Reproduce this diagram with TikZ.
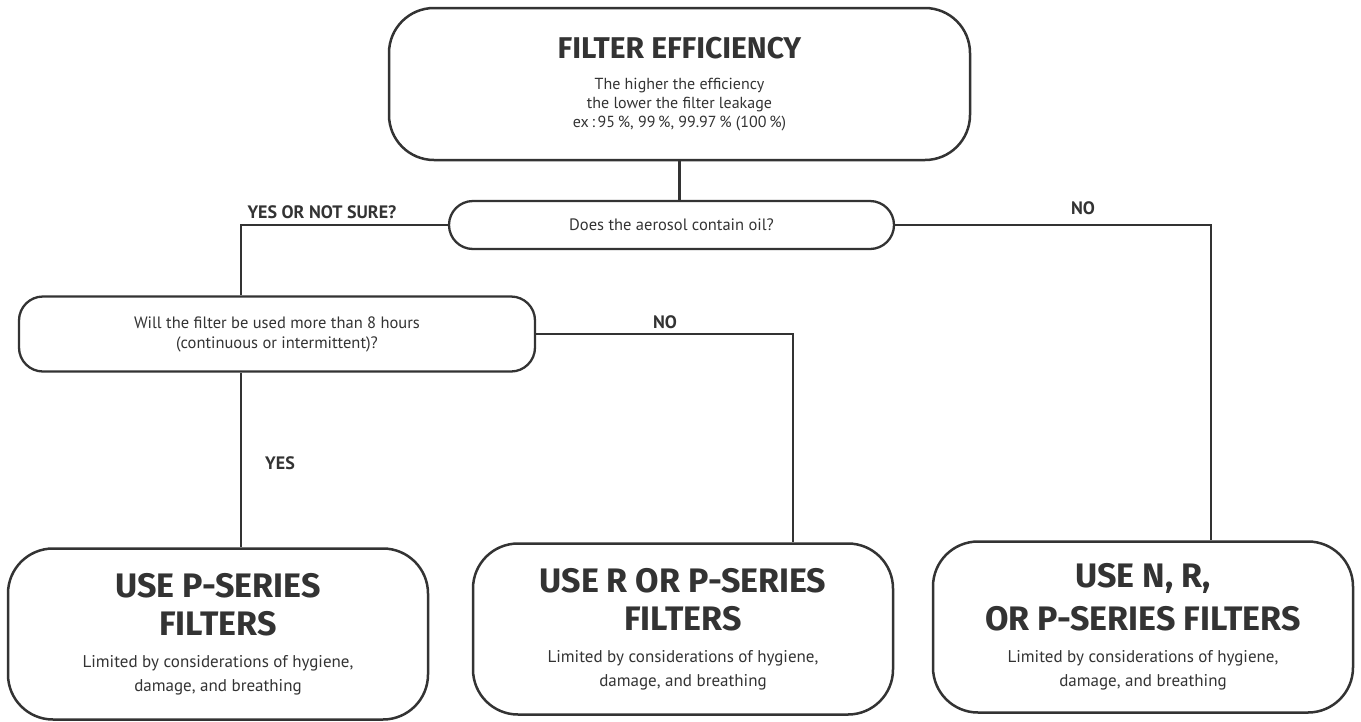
\documentclass[tikz,border=0pt]{standalone}
\usepackage{fontspec}
\setmainfont{PT Sans}
\newfontfamily\headfont{Fira Sans}
\definecolor{ink}{HTML}{333333}
\newcommand{\headtext}{\headfont\bfseries\fontsize{34}{40}\selectfont}
\newcommand{\bodytext}{\normalfont\fontsize{17}{24}\selectfont}
\tikzset{
  bigbox/.style={draw=ink, line width=2.5pt, rounded corners=45pt, align=center,
    text=ink, inner sep=0pt, minimum width=420pt, minimum height=171pt, font=\bodytext},
  askbox/.style={draw=ink, line width=2.3pt, rounded corners=24pt, align=center,
    text=ink, inner sep=0pt, font=\normalfont\fontsize{16.5}{20}\selectfont},
  lbl/.style={text=ink, font=\bfseries\fontsize{18}{20}\selectfont},
  link/.style={draw=ink, line width=2.3pt}
}
\begin{document}
\begin{tikzpicture}[x=1pt,y=-1pt]
  \useasboundingbox (0,0) rectangle (1361,721);
  \node[bigbox, minimum width=581pt, minimum height=152pt,
        font=\normalfont\fontsize{16}{19}\selectfont] (eff) at (679.5,84)
    {{\headfont\bfseries\fontsize{30}{34}\selectfont FILTER EFFICIENCY}\\[12pt]
     The higher the efficiency\\
     the lower the filter leakage\\
     ex\,:\,95\,\%, 99\,\%, 99.97\,\% (100\,\%)};
  \node[askbox, minimum width=445pt, minimum height=48pt] (oil) at (671.5,225)
    {Does the aerosol contain oil?};
  \node[askbox, minimum width=516pt, minimum height=75pt] (hours) at (277,334)
    {Will the filter be used more than 8 hours\\ (continuous or intermittent)?};
  \node[bigbox] (pser) at (218,634)
    {{\headtext USE P-SERIES}\\[12pt] {\headtext FILTERS}\\[8pt]
     Limited by considerations of hygiene,\\ damage, and breathing};
  \node[bigbox] (rpser) at (683,629)
    {{\headtext USE R OR P-SERIES}\\[12pt] {\headtext FILTERS}\\[8pt]
     Limited by considerations of hygiene,\\ damage, and breathing};
  \node[bigbox] (nrp) at (1143,627)
    {{\headtext USE N, R,}\\[12pt] {\headtext OR P-SERIES FILTERS}\\[8pt]
     Limited by considerations of hygiene,\\ damage, and breathing};
  \node[lbl, anchor=west] (ynslbl) at (244,212) {YES OR NOT SURE?};
  \node[lbl] (oilno) at (1083,208) {NO};
  \node[lbl] (hoursno) at (665,322) {NO};
  \node[lbl] (hoursyes) at (280,463) {YES};
  \coordinate (ynsx) at (241,0);
  \coordinate (nox) at (1211,0);
  \coordinate (nohx) at (793,0);
  \begin{scope}[link]
    \draw (eff.south) -- (eff.south |- oil.north);
    \draw (oil.west) -| (ynsx |- hours.north);
    \draw (oil.east) -| (nox |- nrp.north);
    \draw (ynsx |- hours.south) -- (ynsx |- pser.north);
    \draw (hours.east) -| (nohx |- rpser.north);
  \end{scope}
\end{tikzpicture}
\end{document}
